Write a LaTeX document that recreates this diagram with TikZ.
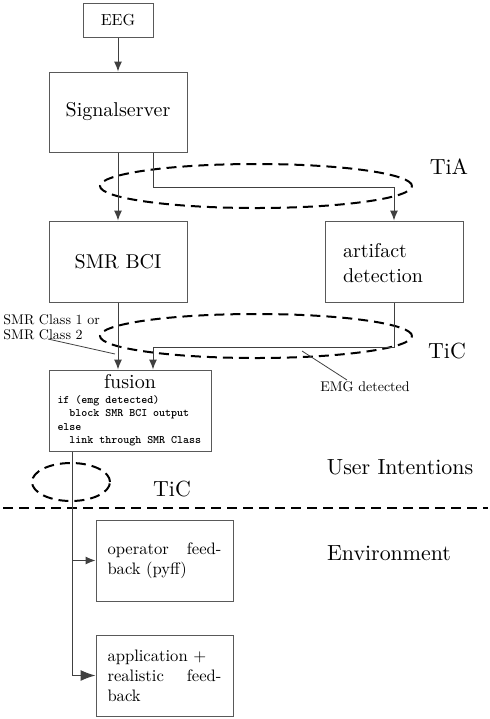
\documentclass[tikz,border=0pt]{standalone}
\usepackage{fontspec}
\setmainfont{lmroman10-regular}[Extension=.otf, BoldFont=lmroman10-bold]
\newfontfamily\codefont{lmmonolt10-bold}[Extension=.otf]
\usetikzlibrary{arrows.meta}
\begin{document}
\begin{tikzpicture}[x=0.5pt,y=-0.5pt,
  box/.style={draw=black!65, line width=0.5pt, rectangle, inner sep=0pt, font=\fontsize{10}{12}\selectfont},
  fbbox/.style={box, minimum width=68.5pt, minimum height=40.5pt, text width=57pt, inner xsep=5.75pt, align=justify, font=\fontsize{8.3}{10}\selectfont},
  conn/.style={draw=black!75, line width=0.5pt},
  arr/.style={conn, -{Latex[length=5pt,width=4pt]}},
  bigarr/.style={conn, -{Latex[length=7.5pt,width=5.5pt]}},
  dashell/.style={draw=black, line width=1pt, dash pattern=on 5pt off 3pt},
  biglabel/.style={font=\fontsize{10.95}{13}\selectfont, inner sep=0pt},
  smalllabel/.style={font=\fontsize{7}{7.5}\selectfont, inner sep=0pt, align=left},
  pinline/.style={draw=black!75, line width=0.4pt}]
\useasboundingbox (0,0) rectangle (490,719);
% nodes
\node[box, minimum width=35pt, minimum height=17pt, font=\fontsize{8}{9.6}\selectfont] (eeg) at (118,20) {EEG};
\node[box, minimum width=69pt, minimum height=40pt] (sig) at (118,112) {Signalserver};
\node[box, minimum width=69pt, minimum height=40.5pt] (smr) at (118,261.5) {SMR BCI};
\node[box, minimum width=69pt, minimum height=40.5pt, align=left, text width=51pt, inner xsep=9pt, font=\fontsize{10}{12.5}\selectfont] (art) at (394,261.5) {\strut artifact\\detection};
\node[box, minimum width=81pt, minimum height=40.5pt, inner xsep=4.25pt] (fus) at (130,410.5)
  {\parbox{72.5pt}{\centering fusion\par\vspace{0.6pt}\raggedright\codefont\fontsize{5.7}{6.7}\selectfont
   if (emg detected)\\~~block SMR BCI output\\else\\~~link through SMR Class}};
\node[fbbox] (op) at (164.5,560.5) {operator feed-\linebreak back (pyff)};
\node[fbbox] (app) at (164.5,675.5) {application +\\ realistic feed-\linebreak back};
% labels
\node[biglabel] (tia) at (449,167) {TiA};
\node[biglabel] (tic1) at (447,351) {TiC};
\node[biglabel] (tic2) at (172,489) {TiC};
\node[biglabel] (ui) at (400,467) {User Intentions};
\node[biglabel] (env) at (389,553) {Environment};
\node[smalllabel, anchor=north west] (cls) at (3,314) {SMR Class 1 or\\SMR Class 2};
\node[smalllabel] (emg) at (365,387) {EMG detected};
\coordinate (clsA) at (48,339);
\coordinate (clsB) at (115,354);
\coordinate (emgA) at (302,351);
\coordinate (emgB) at (347,380);
% ellipses and separator
\draw[dashell] (256,186) ellipse [x radius=78pt, y radius=11pt];
\draw[dashell] (256,336) ellipse [x radius=78pt, y radius=11pt];
\draw[dashell] (71,482) ellipse [x radius=19.5pt, y radius=9.5pt];
\coordinate (sepL) at (3,508);
\coordinate (sepR) at (488,508);
\draw[dashell] (sepL) -- (sepR);
% connectors
\draw[arr] (eeg.south) -- (sig.north);
\draw[arr] (sig.south) -- (smr.north);
\draw[arr] ([xshift=17.5pt]sig.south) -- ++(0,-17.5pt) -| (art.north);
\draw[arr] (smr.south) -- (smr.south |- fus.north);
\draw[arr] (art.south) -- ++(0,-22.5pt) -| ([xshift=11.5pt]fus.north);
\coordinate (f1) at ([xshift=-29pt]fus.south);
\draw[bigarr] (f1) |- (app.west);
\draw[arr] (f1 |- op.west) -- (op.west);
\draw[pinline] (clsA) -- (clsB);
\draw[pinline] (emgA) -- (emgB);
\end{tikzpicture}
\end{document}
